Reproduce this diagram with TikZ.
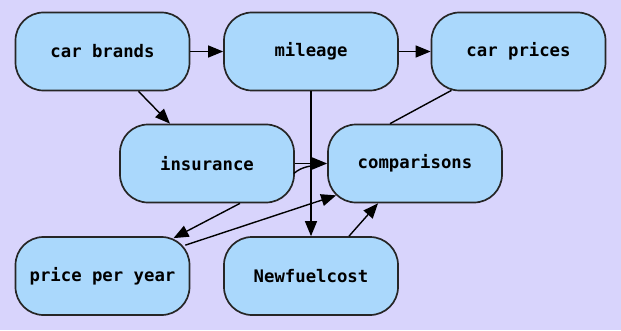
\documentclass[tikz,border=0pt]{standalone}
\usepackage{fontspec}
\newfontfamily\boxfont{DejaVu Sans Mono}
\usetikzlibrary{arrows.meta}
\definecolor{bgcol}{RGB}{216,212,252}
\definecolor{boxcol}{RGB}{170,216,252}
\begin{document}
\begin{tikzpicture}[x=1pt,y=1pt,
  box/.style={draw=black!85, line width=1.7pt, fill=boxcol, rounded corners=28pt,
    minimum width=174pt, minimum height=78pt, inner sep=0pt,
    font=\boxfont\fontsize{17.3}{20}\selectfont\bfseries},
  conn/.style={line width=1.4pt, -{Triangle[length=15pt,width=12pt]}},
  plain/.style={line width=1.4pt}]
\fill[bgcol] (0,0) rectangle (621,330);
\useasboundingbox (0,0) rectangle (621,330);
\node[box] (cb) at (102.5,278.5) {car brands};
\node[box] (mi) at (311,278.5) {mileage};
\node[box] (cp) at (518.5,278.5) {car prices};
\node[box] (ins) at (207,166.5) {insurance};
\node[box] (cmp) at (415,166.5) {comparisons};
\node[box] (ppy) at (102.5,54) {price per year};
\node[box] (nfc) at (311,54) {Newfuelcost};
\draw[conn] (cb.east) -- (mi.west);
\draw[conn] (mi.east) -- (cp.west);
\draw[conn] ([xshift=36pt]cb.south) -- ([xshift=-37pt]ins.north);
\draw[plain] ([xshift=-67pt,yshift=1pt]cp.south) -- ([xshift=-25pt]cmp.north);
\draw[conn] (mi.south) -- (nfc.north);
\draw[conn] (ins.east) -- (cmp.west);
\draw[plain] ([xshift=-1pt,yshift=-10pt]ins.east) .. controls +(8,7) and +(-10,-2) .. ([xshift=-8pt,yshift=-1pt]cmp.west);
\draw[conn] ([xshift=33pt]ins.south) -- ([xshift=71pt,yshift=-2pt]ppy.north);
\draw[conn] ([xshift=-5pt,yshift=-9pt]ppy.north east) -- ([xshift=9pt,yshift=8pt]cmp.south west);
\draw[conn] ([xshift=38pt]nfc.north) -- ([xshift=-37pt]cmp.south);
\end{tikzpicture}
\end{document}
